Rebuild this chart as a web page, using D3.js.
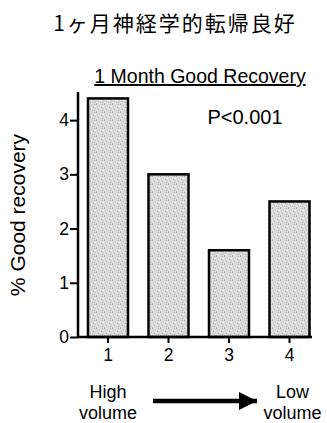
<!DOCTYPE html>
<html>
<head>
<meta charset="utf-8">
<script src="https://cdn.jsdelivr.net/npm/d3@7/dist/d3.min.js"></script>
<style>
  html, body { margin: 0; padding: 0; background: #fff; }
  svg { display: block; }
  text { font-family: "Liberation Sans", Arial, Helvetica, sans-serif; fill: #000; }
</style>
</head>
<body>
<svg id="chart" width="327" height="423"></svg>
<script>
// Volume groups (1 = highest volume, 4 = lowest) and % good recovery at 1 month
const categories = ["1", "2", "3", "4"];
const goodRecovery = [4.4, 3.0, 1.6, 2.5];
const yTicks = [0, 1, 2, 3, 4];

const titleText = "1ヶ月神経学的転帰良好";
const subtitleText = "1 Month Good Recovery";
const pText = "P<0.001";
const yLabel = "% Good recovery";
const highLabel = ["High", "volume"];
const lowLabel = ["Low", "volume"];

const svg = d3.select("#chart");

// Scales
const x = d3.scaleBand()
  .domain(categories)
  .range([88, 309.5])
  .paddingInner(0.339)
  .paddingOuter(0);

const y = d3.scaleLinear()
  .domain([0, 4.5])
  .range([337, 93]);

// Speckled grey fill for the bars
const defs = svg.append("defs");
const tile = 8;
const pat = defs.append("pattern")
  .attr("id", "stipple")
  .attr("width", tile).attr("height", tile)
  .attr("patternUnits", "userSpaceOnUse");
pat.append("rect").attr("width", tile).attr("height", tile).attr("fill", "#dadada");
const specks = [[0,0,"#b0b0b0"],[3,1,"#c0c0c0"],[6,0,"#bababa"],[1,3,"#c4c4c4"],[5,3,"#adadad"],
                [7,4,"#c6c6c6"],[2,5,"#b6b6b6"],[4,6,"#c2c2c2"],[0,7,"#bebebe"],[6,6,"#b3b3b3"],
                [3,4,"#ececec"],[7,2,"#e8e8e8"],[1,6,"#eaeaea"]];
specks.forEach(([px, py, c]) => {
  pat.append("rect").attr("x", px).attr("y", py).attr("width", 1).attr("height", 1).attr("fill", c);
});

// Title
svg.append("text")
  .attr("x", 175).attr("y", 31)
  .attr("text-anchor", "middle")
  .style("font-family", "'Noto Sans CJK JP', 'Noto Sans CJK SC', sans-serif")
  .style("font-size", "21px")
  .style("letter-spacing", "2px")
  .text(titleText);

// Subtitle (underlined)
svg.append("text")
  .attr("x", 200).attr("y", 83)
  .attr("text-anchor", "middle")
  .style("font-size", "19.5px")
  .style("text-decoration", "underline")
  .text(subtitleText);

svg.append("text")
  .attr("x", 245).attr("y", 124)
  .attr("text-anchor", "middle")
  .style("font-size", "20px")
  .text(pText);

// Bars
svg.append("g")
  .selectAll("rect")
  .data(categories)
  .join("rect")
  .attr("x", d => x(d))
  .attr("y", (d, i) => y(goodRecovery[i]))
  .attr("width", x.bandwidth())
  .attr("height", (d, i) => y(0) - y(goodRecovery[i]))
  .attr("fill", "url(#stipple)")
  .attr("stroke", "#000")
  .attr("stroke-width", 2.5);

// Y axis
const yAxis = svg.append("g")
  .attr("transform", "translate(78,0)")
  .call(d3.axisLeft(y).tickValues(yTicks).tickFormat(d3.format("d")).tickSize(8).tickSizeOuter(0));
yAxis.select(".domain").remove();
yAxis.append("line")
  .attr("x1", 0).attr("x2", 0)
  .attr("y1", y.range()[1] - 1).attr("y2", y(0) + 1)
  .attr("stroke", "#000").attr("stroke-width", 2.5);
yAxis.selectAll(".tick line").attr("stroke-width", 2);
yAxis.selectAll(".tick text")
  .attr("x", -9)
  .style("font-size", "17.5px")
  .style("font-family", "'Liberation Sans', Arial, sans-serif")
  .attr("fill", "#000");

// X axis
const xAxis = svg.append("g")
  .attr("transform", `translate(0,${y(0)})`)
  .call(d3.axisBottom(x).tickSize(6).tickSizeOuter(0));
xAxis.select(".domain").remove();
xAxis.append("line")
  .attr("x1", 77).attr("x2", 312)
  .attr("y1", 0).attr("y2", 0)
  .attr("stroke", "#000").attr("stroke-width", 2.5);
xAxis.selectAll(".tick line").attr("stroke-width", 2);
xAxis.selectAll(".tick text")
  .attr("y", 12)
  .style("font-size", "17.5px")
  .style("font-family", "'Liberation Sans', Arial, sans-serif")
  .attr("fill", "#000");

// Y-axis title
svg.append("text")
  .attr("transform", "translate(25,215) rotate(-90)")
  .attr("text-anchor", "middle")
  .style("font-size", "21px")
  .text(yLabel);

// Volume direction labels and arrow
const hx = x("1") + x.bandwidth() / 2;
const lx = x("4") + x.bandwidth() / 2 + 3;
[[highLabel, hx], [lowLabel, lx]].forEach(([lines, cx]) => {
  lines.forEach((s, i) => {
    svg.append("text")
      .attr("text-anchor", "middle")
      .style("font-size", "18px")
      .attr("x", cx).attr("y", 398 + i * 21)
      .text(s);
  });
});

defs.append("marker")
  .attr("id", "arrowhead")
  .attr("viewBox", "0 0 10 10")
  .attr("refX", 10).attr("refY", 5)
  .attr("markerWidth", 27).attr("markerHeight", 18)
  .attr("markerUnits", "userSpaceOnUse")
  .attr("orient", "auto")
  .append("path")
  .attr("d", "M0,0 L10,5 L0,10 Z")
  .attr("fill", "#000");

svg.append("line")
  .attr("x1", 153).attr("x2", 257)
  .attr("y1", 401).attr("y2", 401)
  .attr("stroke", "#000")
  .attr("stroke-width", 4.5)
  .attr("marker-end", "url(#arrowhead)");
</script>
</body>
</html>
